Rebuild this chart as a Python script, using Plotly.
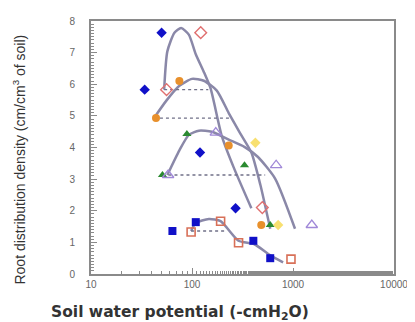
import plotly.graph_objects as go

# ---- data ----
blue_diamond_x = [50, 34, 120, 270]
blue_diamond_y = [7.63, 5.83, 3.84, 2.08]
red_diamond_x = [122, 56, 497]
red_diamond_y = [7.63, 5.83, 2.1]
orange_circle_x = [75, 44, 231, 485]
orange_circle_y = [6.1, 4.93, 4.06, 1.55]
green_tri_x = [89, 51, 331, 595]
green_tri_y = [4.43, 3.13, 3.44, 1.55]
purple_tri_x = [172, 58, 681, 1535]
purple_tri_y = [4.47, 3.13, 3.44, 1.55]
yellow_x = [424, 713]
yellow_y = [4.15, 1.55]
blue_sq_x = [64, 109, 405, 595]
blue_sq_y = [1.36, 1.64, 1.05, 0.5]
red_sq_x = [98, 192, 289, 955]
red_sq_y = [1.33, 1.67, 0.99, 0.47]

curveA_x = [53, 57, 67, 78, 93, 109, 131, 153, 197, 258, 387]
curveA_y = [5.83, 7.04, 7.63, 7.78, 7.57, 6.95, 6.39, 5.86, 4.37, 3.38, 2.08]
curveB_x = [42, 56, 75, 100, 131, 176, 231, 300, 387, 475, 595]
curveB_y = [4.93, 5.49, 5.95, 6.17, 6.11, 5.80, 5.09, 4.45, 3.84, 2.82, 1.43]
curveC_x = [57, 75, 93, 117, 157, 231, 330, 450, 667, 1047]
curveC_y = [3.13, 3.91, 4.40, 4.53, 4.50, 4.25, 4.02, 3.70, 3.01, 1.43]
curveD_x = [98, 109, 147, 192, 289, 415, 595, 798]
curveD_y = [1.36, 1.61, 1.74, 1.67, 1.05, 0.94, 0.59, 0.37]

dash_levels = [5.83, 4.93, 3.13, 1.36]
dash_start = [53, 42, 51, 98]
dash_end = [145, 240, 530, 215]

x_ticks = [10, 100, 1000, 10000]
x_tick_text = ["10", "100", "1000", "10000"]
y_ticks = [0, 1, 2, 3, 4, 5, 6, 7, 8]

curve_color = "#8a88a8"
fig = go.Figure()

for xs, ys in [(curveA_x, curveA_y), (curveB_x, curveB_y), (curveC_x, curveC_y), (curveD_x, curveD_y)]:
    fig.add_trace(go.Scatter(x=xs, y=ys, mode="lines",
                             line=dict(color=curve_color, width=2.5, shape="spline", smoothing=0.6),
                             hoverinfo="skip"))

for lvl, x0, x1 in zip(dash_levels, dash_start, dash_end):
    fig.add_trace(go.Scatter(x=[x0, x1], y=[lvl, lvl], mode="lines",
                             line=dict(color="#707088", width=1.3, dash="3px,3px")))

def mk(xs, ys, symbol, color, size=8, lw=1.2):
    fig.add_trace(go.Scatter(
        x=xs, y=ys, mode="markers",
        marker=dict(symbol=symbol, size=size, color=color,
                    line=dict(color=color, width=lw))))

mk(blue_diamond_x, blue_diamond_y, "diamond", "#1010c8", 8, 0)
mk(red_diamond_x, red_diamond_y, "diamond-open", "#e07070", 9, 1.4)
mk(orange_circle_x, orange_circle_y, "circle", "#e8902c", 8, 0)
mk(green_tri_x, green_tri_y, "triangle-up", "#2a8a30", 8, 0)
mk(purple_tri_x, purple_tri_y, "triangle-up-open", "#a088d8", 10, 1.3)
mk(yellow_x, yellow_y, "diamond", "#f8e070", 8, 0)
mk(blue_sq_x, blue_sq_y, "square", "#1010c8", 8, 0)
mk(red_sq_x, red_sq_y, "square-open", "#d87058", 8, 1.6)

axis_col = "#8a8a8a"
fig.update_layout(
    width=407, height=314,
    margin=dict(l=83, r=18, t=7, b=48),
    paper_bgcolor="white", plot_bgcolor="white",
    showlegend=False,
    font=dict(family="Liberation Sans, Arial, sans-serif", color="#555"),
    xaxis=dict(type="log", range=[1, 4], tickvals=x_ticks, ticktext=x_tick_text,
               ticks="inside", ticklen=6, tickcolor=axis_col, tickwidth=1,
               minor=dict(ticks="inside", ticklen=3, tickcolor=axis_col, showgrid=False),
               showgrid=False, zeroline=False,
               showline=True, linecolor=axis_col, linewidth=2, mirror=True,
               tickfont=dict(size=10, color="#666")),
    yaxis=dict(range=[0, 8], tickvals=y_ticks,
               ticks="inside", ticklen=6, tickcolor=axis_col, tickwidth=1,
               minor=dict(ticks="inside", ticklen=3, dtick=0.1, tickcolor=axis_col, showgrid=False),
               showgrid=False, zeroline=False,
               showline=True, linecolor=axis_col, linewidth=2, mirror=True,
               ticklabelstandoff=12,
               tickfont=dict(size=10, color="#666")),
)

fig.add_annotation(text="Root distribution density (cm/cm<sup>3</sup> of soil)",
                   xref="paper", yref="paper", x=-0.238, y=0.452, textangle=-90,
                   showarrow=False, xanchor="center", yanchor="middle",
                   font=dict(family="Liberation Sans Narrow, Liberation Sans, sans-serif", size=14, color="#333"))
fig.add_annotation(text="Soil water potential (-cmH<sub>2</sub>O)",
                   xref="paper", yref="paper", x=-0.14, y=-0.105,
                   showarrow=False, xanchor="left", yanchor="top",
                   font=dict(family="DejaVu Sans, sans-serif", size=15.5, color="#333", weight="bold"))

fig.write_html("out.html")
